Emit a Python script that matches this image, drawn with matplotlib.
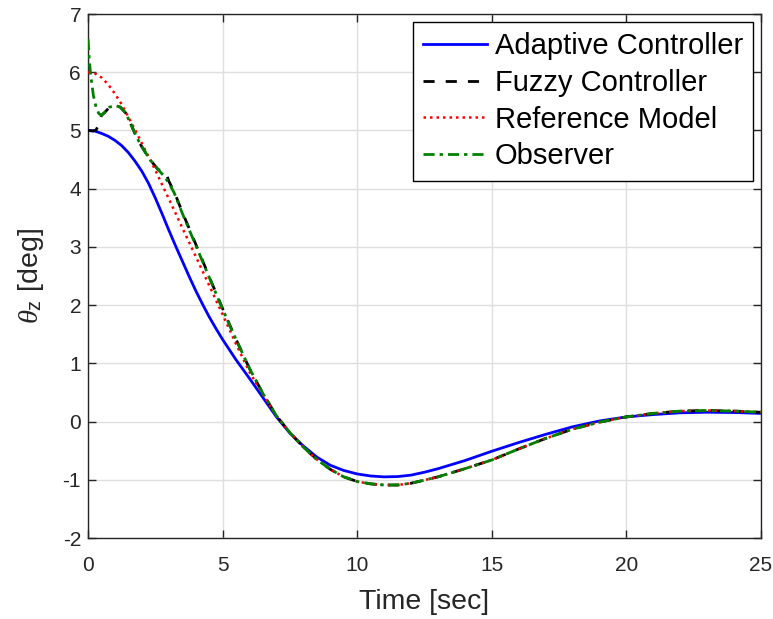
import matplotlib
matplotlib.use("Agg")
import matplotlib.pyplot as plt

plt.rcParams['font.family'] = ['Liberation Sans', 'DejaVu Sans']
plt.rcParams['mathtext.fontset'] = 'custom'
plt.rcParams['mathtext.rm'] = 'Liberation Sans'
plt.rcParams['mathtext.it'] = 'Liberation Serif:italic'
plt.rcParams['axes.unicode_minus'] = False

# Adaptive controller response
t_adapt = [0, 0.25, 0.5, 0.75, 1.0, 1.25, 1.5, 1.75, 2.0, 2.25, 2.5, 2.75, 3.0,
           3.25, 3.5, 3.75, 4.0, 4.25, 4.5, 4.75, 5.0, 5.5, 6.0, 6.5, 7.0, 7.5,
           8.0, 8.5, 9.0, 9.5, 10.0, 10.5, 11.0, 11.5, 12.0, 12.5, 13.0, 14.0,
           15.0, 16.0, 17.0, 18.0, 19.0, 20.0, 21.0, 22.0, 23.0, 24.0, 25.0]
y_adapt = [5.0, 4.99, 4.95, 4.90, 4.83, 4.74, 4.62, 4.47, 4.30, 4.09, 3.84, 3.57,
           3.29, 3.02, 2.76, 2.50, 2.25, 2.02, 1.80, 1.60, 1.41, 1.06, 0.74, 0.41,
           0.08, -0.20, -0.42, -0.61, -0.75, -0.84, -0.90, -0.935, -0.95, -0.945,
           -0.92, -0.87, -0.81, -0.67, -0.51, -0.36, -0.22, -0.09, 0.01, 0.08,
           0.12, 0.15, 0.16, 0.155, 0.14]

# Reference model response
t_ref = [0, 0.25, 0.5, 0.75, 1.0, 1.25, 1.5, 1.75, 2.0, 2.25, 2.5, 2.75, 3.0,
         3.5, 4.0, 4.5, 5.0, 5.5, 6.0, 6.5, 7.0, 7.5, 8.0, 8.5, 9.0, 9.5, 10.0,
         10.5, 11.0, 11.5, 12.0, 13.0, 14.0, 15.0, 16.0, 17.0, 18.0, 19.0, 20.0,
         21.0, 22.0, 23.0, 24.0, 25.0]
y_ref = [6.0, 5.98, 5.91, 5.79, 5.63, 5.45, 5.23, 5.01, 4.78, 4.55, 4.32, 4.07,
         3.83, 3.33, 2.84, 2.34, 1.84, 1.33, 0.85, 0.46, 0.10, -0.19, -0.44,
         -0.65, -0.82, -0.95, -1.03, -1.07, -1.09, -1.09, -1.06, -0.95, -0.81,
         -0.66, -0.47, -0.29, -0.13, -0.01, 0.08, 0.14, 0.18, 0.19, 0.18, 0.16]

# Observer estimate
t_obs = [0, 0.05, 0.1, 0.2, 0.3, 0.4, 0.5, 0.6, 0.8, 1.0, 1.2, 1.4, 1.6, 1.8,
         2.0, 2.3, 2.6, 2.8, 3.0, 3.2, 3.5, 4.0, 4.5, 5.0, 5.5, 6.0, 6.5, 7.0,
         7.5, 8.0, 8.5, 9.0, 9.5, 10.0, 10.5, 11.0, 11.5, 12.0, 13.0, 14.0, 15.0,
         16.0, 17.0, 18.0, 19.0, 20.0, 21.0, 22.0, 23.0, 24.0, 25.0]
y_obs = [6.57, 6.20, 5.95, 5.60, 5.40, 5.29, 5.26, 5.30, 5.40, 5.43, 5.40, 5.30,
         5.10, 4.89, 4.72, 4.50, 4.33, 4.23, 4.10, 3.93, 3.58, 3.03, 2.48, 1.93,
         1.41, 0.91, 0.48, 0.10, -0.19, -0.44, -0.65, -0.82, -0.95, -1.03, -1.07,
         -1.09, -1.09, -1.06, -0.95, -0.81, -0.66, -0.47, -0.29, -0.13, -0.01,
         0.08, 0.14, 0.18, 0.19, 0.18, 0.16]

# Fuzzy controller response
t_fuzzy = [0, 0.2, 0.3, 0.38, 0.5, 0.6, 0.8, 1.0, 1.2, 1.4, 1.6, 1.8, 2.0, 2.3,
           2.6, 2.9, 3.0, 3.2, 3.5, 4.0, 4.5, 5.0, 5.5, 6.0, 6.5, 7.0, 7.5, 8.0,
           8.5, 9.0, 9.5, 10.0, 10.5, 11.0, 11.5, 12.0, 13.0, 14.0, 15.0, 16.0,
           17.0, 18.0, 19.0, 20.0, 21.0, 22.0, 23.0, 24.0, 25.0]
y_fuzzy = [5.0, 4.99, 5.01, 5.08, 5.26, 5.30, 5.40, 5.43, 5.40, 5.30, 5.10, 4.89,
           4.72, 4.50, 4.33, 4.28, 4.13, 3.95, 3.60, 3.05, 2.49, 1.94, 1.41, 0.91,
           0.48, 0.10, -0.19, -0.44, -0.65, -0.82, -0.95, -1.03, -1.07, -1.09,
           -1.09, -1.06, -0.95, -0.81, -0.66, -0.47, -0.29, -0.13, -0.01, 0.08,
           0.14, 0.18, 0.19, 0.18, 0.16]

x_ticks = [0, 5, 10, 15, 20, 25]
y_ticks = [-2, -1, 0, 1, 2, 3, 4, 5, 6, 7]

fig = plt.figure(figsize=(7.73, 6.19), dpi=100)
ax = fig.add_axes([88 / 773, 1 - 538 / 619, (761 - 88) / 773, (538 - 14) / 619])

ax.plot(t_adapt, y_adapt, color='#0000ff', lw=2.0, label='Adaptive Controller', zorder=3)
ax.plot(t_fuzzy, y_fuzzy, color='black', lw=2.0, ls=(0, (4.0, 4.0)),
        label='Fuzzy Controller', zorder=4)
ax.plot(t_ref, y_ref, color='#ff0000', lw=1.8, ls=(0, (1, 1.6)),
        label='Reference Model', zorder=5)
ax.plot(t_obs, y_obs, color='#008000', lw=2.0, ls=(0, (4.0, 1.8, 1.2, 1.8)),
        label='Observer', zorder=6)

ax.set_xlim(0, 25)
ax.set_ylim(-2, 7)
ax.set_xticks(x_ticks)
ax.set_yticks(y_ticks)
ax.grid(True, color='#dfdfdf', lw=1.0)
ax.set_axisbelow(True)
ax.tick_params(direction='in', length=6, width=1, colors='#262626', labelsize=15,
               top=True, right=True)
ax.tick_params(axis='x', pad=13)
ax.tick_params(axis='y', pad=5)
for s in ax.spines.values():
    s.set_color('#262626')
    s.set_linewidth(1.0)

ax.set_xlabel('Time [sec]', fontsize=20.5, color='#262626', labelpad=10)
ax.set_ylabel(r'$\theta_{\mathrm{z}}$ [deg]', fontsize=20.5, color='#262626', labelpad=12)

leg = ax.legend(loc='upper right', fontsize=21, handlelength=2.2, handletextpad=0.25,
                labelspacing=0.3, borderpad=0.35, borderaxespad=0.27,
                frameon=True, fancybox=False, edgecolor='black', framealpha=1)
leg.get_frame().set_linewidth(1.0)

fig.savefig('out.png', dpi=100)
